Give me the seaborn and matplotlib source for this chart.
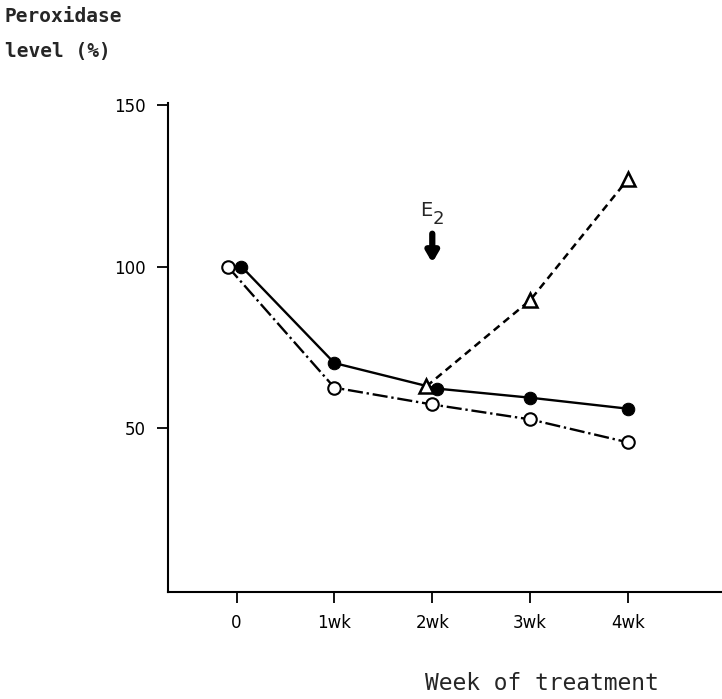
import matplotlib
matplotlib.use("Agg")
import matplotlib.pyplot as plt
import seaborn as sns
import pandas as pd

# Data (week of treatment, peroxidase level %)
tick_positions = [0, 1, 2, 3, 4]
tick_labels = ["0", "1wk", "2wk", "3wk", "4wk"]

open_weeks = [-0.09, 1, 2, 3, 4]
open_vals = [100, 62.6, 57.4, 52.8, 45.7]

filled_weeks = [0.05, 1, 2.05, 3, 4]
filled_vals = [100, 70.2, 62.3, 59.5, 56.1]

tri_weeks = [1.94, 3, 4]
tri_vals = [63.0, 89.6, 127.0]

open_df = pd.DataFrame({"week": open_weeks, "level": open_vals})
filled_df = pd.DataFrame({"week": filled_weeks, "level": filled_vals})
tri_df = pd.DataFrame({"week": tri_weeks, "level": tri_vals})

sns.set_style("ticks")
plt.rcParams["font.family"] = ["DejaVu Sans"]

fig = plt.figure(figsize=(7.22, 6.99), dpi=100)
ax = fig.add_axes([168 / 722, 107 / 699, 1 - 168 / 722, (592 - 103) / 699])

sns.lineplot(data=filled_df, x="week", y="level", ax=ax, color="black",
             linestyle="-", linewidth=1.7, marker="o", markersize=9,
             markerfacecolor="black", markeredgecolor="black", zorder=3)
sns.lineplot(data=open_df, x="week", y="level", ax=ax, color="black",
             linestyle="-.", linewidth=1.7, marker="o", markersize=9,
             markerfacecolor="white", markeredgecolor="black",
             markeredgewidth=1.5, zorder=3)
sns.lineplot(data=tri_df, x="week", y="level", ax=ax, color="black",
             linestyle=(0, (3, 2)), linewidth=1.8, marker="^", markersize=10,
             markerfacecolor="white", markeredgecolor="black",
             markeredgewidth=1.8, zorder=3)

ax.set_xlim(-0.70, 4.96)
ax.set_ylim(-0.5, 150.5)
ax.set_xticks(tick_positions)
ax.set_xticklabels(tick_labels, fontsize=12)
ax.set_yticks([50, 100, 150])
ax.set_yticklabels(["50", "100", "150"], fontsize=12)
ax.tick_params(axis="both", direction="out", length=8, width=1.3, colors="black", pad=8)
for side in ["top", "right"]:
    ax.spines[side].set_visible(False)
for side in ["left", "bottom"]:
    ax.spines[side].set_linewidth(1.5)
    ax.spines[side].set_color("black")
ax.set_xlabel("")
ax.set_ylabel("")

# E2 arrow
ax.annotate("", xy=(2.0, 100.3), xytext=(2.0, 111),
            arrowprops=dict(arrowstyle="-|>,head_width=0.35,head_length=0.6",
                            color="black", lw=4.5))
ax.text(1.94, 114.5, "E", fontsize=14, ha="center", va="bottom", family="DejaVu Sans")
ax.text(2.06, 112.0, "2", fontsize=13, ha="center", va="bottom", family="DejaVu Sans")

fig.text(5 / 722, 1 - 16 / 699, "Peroxidase", fontsize=14, family="DejaVu Sans Mono",
         ha="left", va="center", weight="bold")
fig.text(5 / 722, 1 - 52 / 699, "level (%)", fontsize=14, family="DejaVu Sans Mono",
         ha="left", va="center", weight="bold")
fig.text(425 / 722, 1 - 683 / 699, "Week of treatment", fontsize=16.5,
         family="DejaVu Sans Mono", ha="left", va="center")

fig.savefig("out.png", dpi=100)
